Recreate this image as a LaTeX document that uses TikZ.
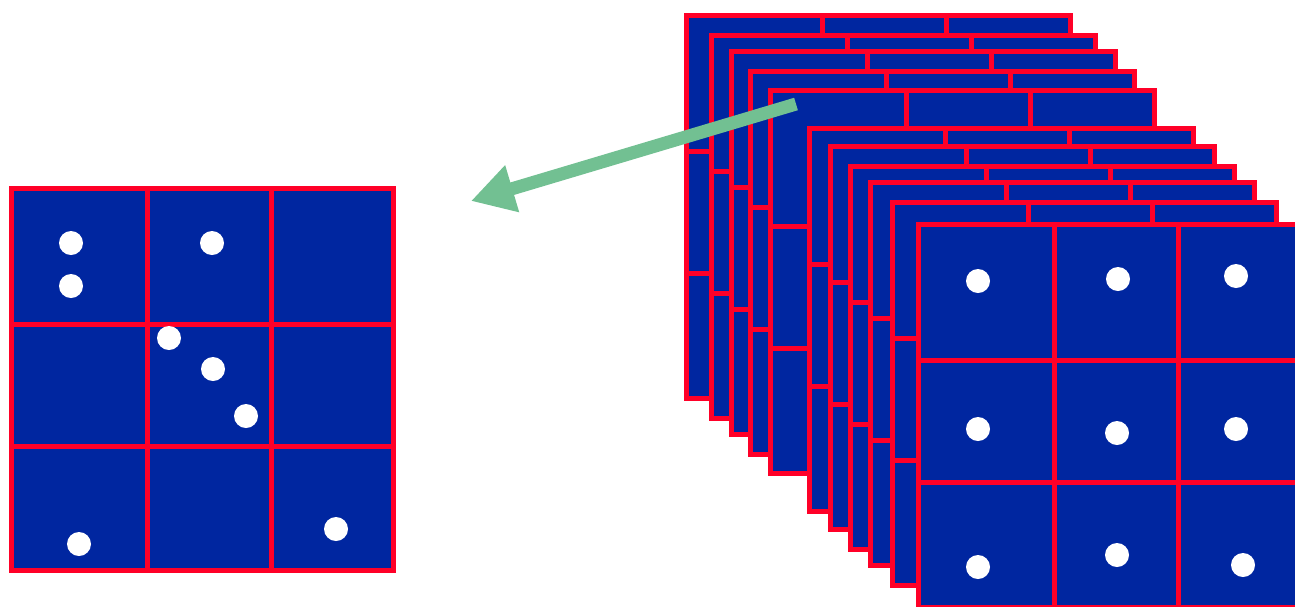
\documentclass[tikz,border=0pt]{standalone}
\usetikzlibrary{arrows.meta}
\definecolor{cellblue}{RGB}{0,38,160}
\definecolor{cellred}{RGB}{255,0,40}
\definecolor{flowgreen}{RGB}{114,192,146}
\tikzset{
  framebox/.style={fill=cellblue, draw=cellred, line width=5pt},
  gridline/.style={draw=cellred, line width=5pt},
  pointdot/.style={fill=white},
  flowarrow/.style={draw=flowgreen, line width=13pt,
    -{Triangle[length=43pt,width=46pt]}},
}
% one 3x3 frame: #1,#2 = top-left corner, #3,#4 = width, height
\newcommand\gridframe[4]{%
  \begin{scope}[shift={(#1,#2)}]
    \filldraw[framebox] (0,0) rectangle (#3,#4);
    \draw[gridline] (136,0) -- (136,#4) (260,0) -- (260,#4)
                    (0,136) -- (#3,136) (0,258) -- (#3,258);
  \end{scope}}
\begin{document}
\begin{tikzpicture}[x=1pt,y=-1pt]
  \useasboundingbox (0,0) rectangle (1295,606);
  \clip (0,0) rectangle (1295,606);

  % single grid with scattered points
  \gridframe{11.5}{188.5}{381.5}{381.5}
  \foreach \px/\py in {71/243, 71/286, 212/243, 169/338, 213/369,
                       246/416, 79/544, 336/529}
    \fill[pointdot] (\px,\py) circle (12);

  % stack of grids
  \foreach \fx/\fy in {686.5/15, 711/35, 731/51, 750/71, 770/90,
                       809/128, 830/146, 850/166, 870/182, 892.5/202,
                       918.5/224.5}
    {\gridframe{\fx}{\fy}{384}{383}}

  % points of the front grid
  \foreach \px/\py in {978/281, 1118/279, 1236/276, 978/429, 1117/433,
                       1236/429, 978/567, 1117/555, 1243/565}
    \fill[pointdot] (\px,\py) circle (12);

  % arrow from the stack to the single grid
  \coordinate (from) at (796,104);
  \coordinate (to) at (471,201);
  \draw[flowarrow] (from) -- (to);
\end{tikzpicture}
\end{document}
